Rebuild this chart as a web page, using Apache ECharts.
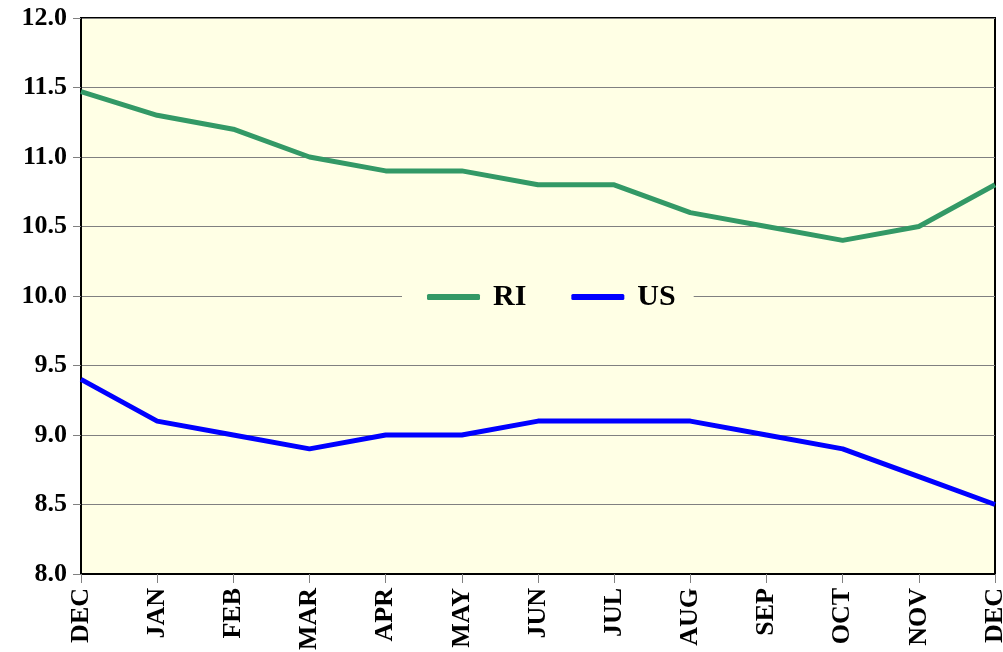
<!DOCTYPE html>
<html>
<head>
<meta charset="utf-8">
<script src="https://cdn.jsdelivr.net/npm/echarts@6/dist/echarts.min.js"></script>
<style>
html,body{margin:0;padding:0;background:#fff;}
#main{width:1003px;height:652px;}
</style>
</head>
<body>
<div id="main"></div>
<script>
// months along the x axis
var months = ['DEC', 'JAN', 'FEB', 'MAR', 'APR', 'MAY', 'JUN', 'JUL', 'AUG', 'SEP', 'OCT', 'NOV', 'DEC'];
// unemployment rate, RI vs US
var riData = [11.47, 11.3, 11.2, 11.0, 10.9, 10.9, 10.8, 10.8, 10.6, 10.5, 10.4, 10.5, 10.8];
var usData = [9.4, 9.1, 9.0, 8.9, 9.0, 9.0, 9.1, 9.1, 9.1, 9.0, 8.9, 8.7, 8.5];

var fontFam = '"Liberation Serif", "Times New Roman", serif';
var bgYellow = '#FFFFE5';

var chart = echarts.init(document.getElementById('main'));

var option = {
    animation: false,
    backgroundColor: '#fff',
    grid: {
        left: 81, right: 8, top: 18, bottom: 78,
        outerBoundsMode: 'none',
        containLabel: false,
        show: true,
        backgroundColor: bgYellow,
        borderColor: '#000',
        borderWidth: 2
    },
    legend: {
        left: 402,
        top: 276,
        padding: [6, 18, 6, 25],
        backgroundColor: bgYellow,
        itemWidth: 53,
        itemHeight: 6,
        itemGap: 45,
        icon: 'roundRect',
        textStyle: {fontFamily: fontFam, fontWeight: 'bold', fontSize: 30, color: '#000', padding: [0, 0, 0, 8]},
        data: ['RI', 'US']
    },
    xAxis: {
        type: 'category',
        boundaryGap: false,
        data: months,
        axisLine: {lineStyle: {color: '#000', width: 2}},
        axisTick: {show: true, length: 9, lineStyle: {color: '#808080', width: 1}},
        axisLabel: {rotate: 90, fontFamily: fontFam, fontWeight: 'bold', fontSize: 26, color: '#000', margin: 14, interval: 0}
    },
    yAxis: {
        type: 'value',
        min: 8,
        max: 12,
        interval: 0.5,
        axisLine: {show: true, lineStyle: {color: '#000', width: 2}},
        axisTick: {show: true, length: 8, lineStyle: {color: '#808080', width: 1}},
        splitLine: {show: true, lineStyle: {color: '#808080', width: 1}},
        axisLabel: {
            fontFamily: fontFam, fontWeight: 'bold', fontSize: 26, color: '#000', margin: 14,
            formatter: function (v) { return v.toFixed(1); }
        }
    },
    series: [
        {
            name: 'RI',
            type: 'line',
            data: riData,
            symbol: 'none',
            color: '#339966',
            lineStyle: {width: 5, color: '#339966'}
        },
        {
            name: 'US',
            type: 'line',
            data: usData,
            symbol: 'none',
            color: '#0000FF',
            lineStyle: {width: 5, color: '#0000FF'}
        }
    ]
};

chart.setOption(option);
</script>
</body>
</html>
